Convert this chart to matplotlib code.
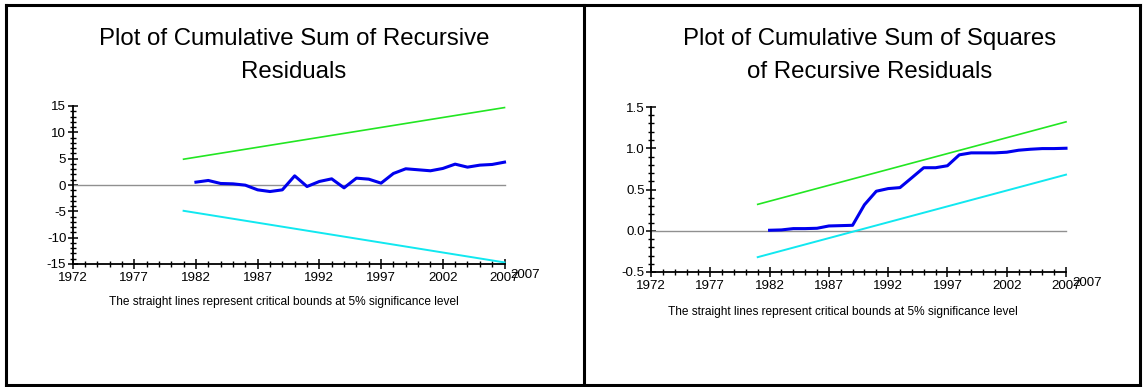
import matplotlib
matplotlib.use("Agg")
import matplotlib.pyplot as plt
from matplotlib.lines import Line2D
from matplotlib.ticker import MultipleLocator

plt.rcParams["font.family"] = ["Liberation Sans", "DejaVu Sans"]
plt.rcParams["axes.unicode_minus"] = False

# Daten
years = [1982, 1983, 1984, 1985, 1986, 1987, 1988, 1989, 1990, 1991, 1992, 1993, 1994,
         1995, 1996, 1997, 1998, 1999, 2000, 2001, 2002, 2003, 2004, 2005, 2006, 2007]
cusum = [0.54, 0.86, 0.29, 0.22, -0.03, -0.92, -1.24, -0.92, 1.74, -0.29, 0.67, 1.17, -0.54,
         1.30, 1.11, 0.35, 2.19, 3.08, 2.89, 2.70, 3.14, 3.96, 3.39, 3.77, 3.90, 4.34]
cusumsq = [0.006, 0.01, 0.026, 0.026, 0.03, 0.058, 0.062, 0.066, 0.315, 0.479, 0.511, 0.523, 0.643,
           0.764, 0.764, 0.788, 0.920, 0.944, 0.944, 0.944, 0.952, 0.976, 0.988, 0.996, 0.996, 1.0]

bound_years = [1981, 2007]
cusum_upper = [4.9, 14.7]
cusum_lower = [-4.9, -14.7]
sq_upper = [0.32, 1.32]
sq_lower = [-0.32, 0.68]

titles = [["Plot of Cumulative Sum of Recursive", "Residuals"],
          ["Plot of Cumulative Sum of Squares", "of Recursive Residuals"]]
note = "The straight lines represent critical bounds at 5% significance level"

W, H = 1143, 387
fig = plt.figure(figsize=(W / 100, H / 100), dpi=100)


def px(x, y):
    return x / W, 1 - y / H


def make_axes(rect_px, ylim, ymajor, yminor, series, upper, lower, yfmt):
    x0, y0, x1, y1 = rect_px
    ax = fig.add_axes([x0 / W, 1 - y1 / H, (x1 - x0) / W, (y1 - y0) / H])
    ax.plot([1972, 2007], [0, 0], color="#909090", lw=1.0, clip_on=False)
    ax.plot(bound_years, upper, color="#22e622", lw=1.2, clip_on=False)
    ax.plot(bound_years, lower, color="#11e8f0", lw=1.4, clip_on=False)
    ax.plot(years, series, color="#0000ee", lw=2.2, clip_on=False)
    ax.set_xlim(1972, 2007)
    ax.set_ylim(*ylim)
    for s in ["top", "right"]:
        ax.spines[s].set_visible(False)
    ax.spines["left"].set_linewidth(1.3)
    ax.spines["bottom"].set_linewidth(1.3)
    ax.set_xticks(range(1972, 2008, 5))
    ax.xaxis.set_minor_locator(MultipleLocator(1))
    ax.yaxis.set_major_locator(MultipleLocator(ymajor))
    ax.yaxis.set_minor_locator(MultipleLocator(yminor))
    ax.yaxis.set_major_formatter(yfmt)
    ax.tick_params(which="major", direction="inout", length=7, width=1.1, labelsize=9.6, pad=1)
    ax.tick_params(which="minor", direction="inout", length=5, width=1.0)
    ax.tick_params(axis="x", pad=2)
    # doppelte Beschriftung am rechten Ende (wie im Original)
    ax.annotate("2007", xy=(2007, ylim[0]), xytext=(6, -5), textcoords="offset pixels",
                ha="left", va="top", fontsize=9.6, annotation_clip=False)
    return ax


make_axes((72.5, 106, 504.5, 264), (-15, 15), 5, 1, cusum, cusum_upper, cusum_lower,
          lambda v, p: "%d" % round(v))
make_axes((651, 107, 1066, 272), (-0.5, 1.5), 0.5, 0.1, cusumsq, sq_upper, sq_lower,
          lambda v, p: "%.1f" % v)

# Titel
for cx, lines in [(294, titles[0]), (870, titles[1])]:
    fig.text(*px(cx, 39), lines[0], ha="center", va="center", fontsize=17.3)
    fig.text(*px(cx, 72), lines[1], ha="center", va="center", fontsize=17.3)

# Hinweistext
fig.text(*px(284, 302), note, ha="center", va="center", fontsize=8.6)
fig.text(*px(843, 312), note, ha="center", va="center", fontsize=8.6)

# Rahmen
frame = dict(color="black", lw=2.2, transform=fig.transFigure)
for xs, ys in [([6, 1140], [4.5, 4.5]), ([6, 1140], [385, 385]),
               ([6, 6], [4.5, 385]), ([1140, 1140], [4.5, 385]), ([583.5, 583.5], [4.5, 385])]:
    fig.add_artist(Line2D([x / W for x in xs], [1 - y / H for y in ys], **frame))

plt.savefig("out.png", dpi=100)
